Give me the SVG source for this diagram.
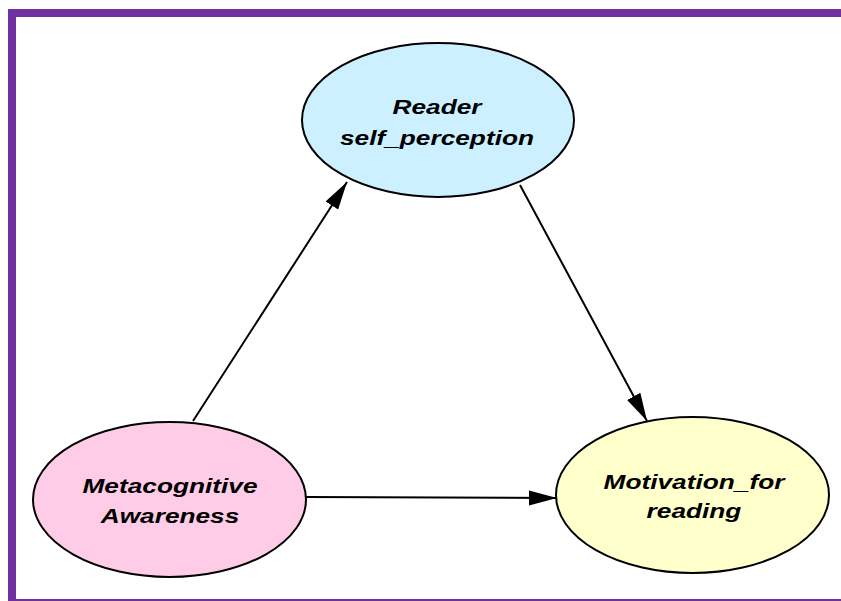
<svg xmlns="http://www.w3.org/2000/svg" width="841" height="601" viewBox="0 0 841 601">
<style>
.node{stroke:#000;stroke-width:2}
.lbl{font-family:"Liberation Sans",Arial,sans-serif;font-weight:bold;font-style:italic;font-size:21px;fill:#000;text-anchor:middle}
.edge{stroke:#000;stroke-width:2;fill:none}
</style>
<defs>
<marker id="ah" markerUnits="userSpaceOnUse" markerWidth="30" markerHeight="18" viewBox="0 0 30 18" refX="28" refY="9" orient="auto">
<path d="M0,1.5 L28,9 L0,16.5 Z" fill="#000"/>
</marker>
</defs>
<rect x="0" y="0" width="841" height="601" fill="#fff"/>
<rect x="12" y="13" width="840" height="590" fill="none" stroke="#7030a0" stroke-width="8"/>
<g id="connectors">
<line class="edge" x1="193" y1="421" x2="347" y2="182" marker-end="url(#ah)"/>
<line class="edge" x1="520" y1="185" x2="647" y2="421" marker-end="url(#ah)"/>
<line class="edge" x1="306" y1="497" x2="557" y2="498" marker-end="url(#ah)"/>
</g>
<g id="reader">
<ellipse class="node" cx="438" cy="120" rx="136" ry="77" fill="#ccf0ff"/>
<g transform="translate(437 0) scale(1.25 1)">
<text class="lbl" x="0" y="114">Reader</text>
<text class="lbl" x="0" y="145">self_perception</text>
</g>
</g>
<g id="metacognitive">
<ellipse class="node" cx="169.5" cy="499.5" rx="136.5" ry="77.5" fill="#ffcce8"/>
<g transform="translate(170 0) scale(1.25 1)">
<text class="lbl" x="0" y="493">Metacognitive</text>
<text class="lbl" x="0" y="523">Awareness</text>
</g>
</g>
<g id="motivation">
<ellipse class="node" cx="692.5" cy="495" rx="136.5" ry="78" fill="#ffffcc"/>
<g transform="translate(694 0) scale(1.25 1)">
<text class="lbl" x="0" y="489">Motivation_for</text>
<text class="lbl" x="0" y="518">reading</text>
</g>
</g>
</svg>
